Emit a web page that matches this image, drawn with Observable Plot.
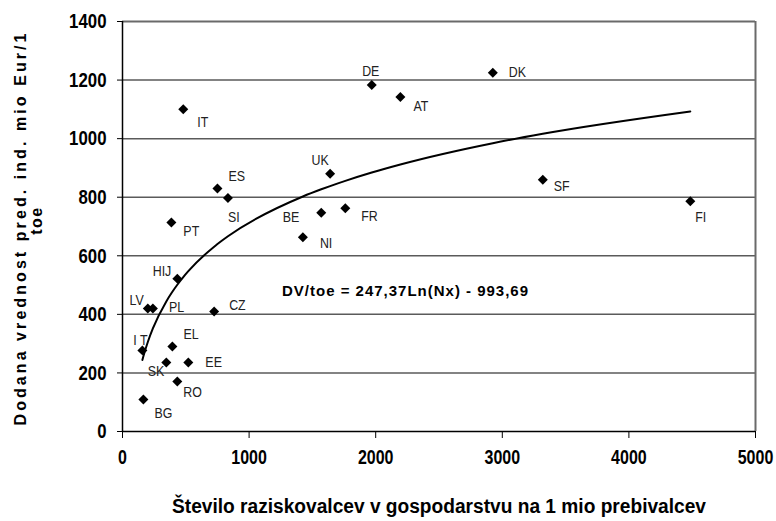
<!DOCTYPE html>
<html><head><meta charset="utf-8">
<script src="https://cdn.jsdelivr.net/npm/d3@7"></script>
<script src="https://cdn.jsdelivr.net/npm/@observablehq/plot@0.6"></script>
<style>body{margin:0;background:#fff}</style>
</head><body><div id="chart"></div>
<script>
// ---- data ----
const labels = ["I T","BG","LV","PL","SK","PT","EL","RO","HIJ","IT","EE","CZ","ES","SI","NI","BE","UK","FR","DE","AT","DK","SF","FI"];
const researchers = [157,165,200,240,346,386,394,433,433,480,520,724,750,833,1425,1570,1640,1760,1969,2195,2925,3320,4485];
const valueAdded  = [277,109,420,420,236,714,290,171,522,1100,236,410,830,797,663,747,880,762,1183,1142,1225,860,786];
const xTicks = [0,1000,2000,3000,4000,5000];
const yTicks = [0,200,400,600,800,1000,1200,1400];
const gridValues = [200,400,600,800,1000,1200];
const equationText = "DV/toe = 247,37Ln(Nx) - 993,69";
const equationPos = {x: 1260, y: 480};
const xTitle = "Število raziskovalcev v gospodarstvu na 1 mio prebivalcev";
const yTitleLines = ["Dodana vrednost pred. ind. mio Eur/1", "toe"];

// label placement (anchor, dx, dy) in pixels, separate from the values
const labelPlacement = [
  ["middle",-2,-10],["start",11,13],["end",-4,-8],["start",16,-1],["end",-2,9],
  ["start",12,9],["start",11,-13],["start",6,11],["end",-6,-8],["start",14,13],
  ["start",17,0],["start",15,-6],["start",11,-12],["start",0,19],["start",17,6],
  ["end",-22,4],["middle",-10,-14],["start",16,8],["middle",-1,-14],["start",13,9],
  ["start",16,-1],["start",11,6],["start",5,16]
];

const points = labels.map((c,i) => ({label: c, x: researchers[i], y: valueAdded[i], place: labelPlacement[i]}));

// logarithmic least-squares fit of the points (trend line)
const L = researchers.map(Math.log);
const mL = d3.mean(L), mY = d3.mean(valueAdded);
const slope = d3.sum(L, (l,i) => (l-mL)*(valueAdded[i]-mY)) / d3.sum(L, l => (l-mL)**2);
const intercept = mY - slope*mL;
const trend = researchers.slice().sort((a,b)=>a-b).map(x => ({x, y: intercept + slope*Math.log(x)}));

const sans = "'Liberation Sans',Arial,sans-serif";

const labelMarks = points.map(p => Plot.text([p], {
  x: "x", y: "y", text: "label",
  textAnchor: p.place[0], dx: p.place[1], dy: p.place[2],
  lineAnchor: "middle", fontFamily: sans, fontSize: 15.5, fill: "#222"
}));

const chart = Plot.plot({
  width: 776, height: 521,
  marginLeft: 122, marginRight: 21, marginTop: 21, marginBottom: 90,
  style: {fontFamily: sans, background: "#fff", overflow: "visible"},
  x: {domain: [0,5000]},
  y: {domain: [0,1400]},
  marks: [
    Plot.ruleY(gridValues, {stroke: "#5a5a5a", strokeWidth: 1.5}),
    Plot.ruleY([1400], {stroke: "#6a6a6a", strokeWidth: 2}),
    Plot.ruleX([5000], {stroke: "#6a6a6a", strokeWidth: 2}),
    Plot.ruleY([0], {stroke: "#000", strokeWidth: 1.5}),
    Plot.ruleX([0], {stroke: "#000", strokeWidth: 1.5}),
    Plot.axisX({ticks: xTicks, tickSize: 7, tickPadding: 11, label: null, tickFormat: d => String(d),
      fontSize: 20, fontWeight: "bold", fontFamily: sans, stroke: "#000", fill: "#000"}),
    Plot.axisY({ticks: yTicks, tickSize: 5, tickPadding: 11, label: null, tickFormat: d => String(d),
      fontSize: 21, fontWeight: "bold", fontFamily: sans, stroke: "#000", fill: "#000"}),
    Plot.line(trend, {x: "x", y: "y", stroke: "#000", strokeWidth: 2, curve: "monotone-x"}),
    Plot.dot(points, {x: "x", y: "y", symbol: "diamond2", r: 4.5, fill: "#000", stroke: "none"}),
    ...labelMarks,
    Plot.text([equationText], {x: equationPos.x, y: equationPos.y, text: d => d, textAnchor: "start",
      lineAnchor: "middle", fontFamily: sans, fontWeight: "bold", fontSize: 15, fill: "#000"}),
    Plot.text([xTitle], {frameAnchor: "bottom", text: d => d, dy: 75, lineAnchor: "middle", textAnchor: "middle",
      fontFamily: sans, fontWeight: "bold", fontSize: 20, fill: "#000"}),
    Plot.text([yTitleLines[0]], {frameAnchor: "left", text: d => d, dx: -102, dy: 3, rotate: -90,
      lineAnchor: "middle", textAnchor: "middle", fontFamily: sans, fontWeight: "bold", fontSize: 16, fill: "#000"}),
    Plot.text([yTitleLines[1]], {frameAnchor: "left", text: d => d, dx: -86, dy: -6, rotate: -90,
      lineAnchor: "middle", textAnchor: "middle", fontFamily: sans, fontWeight: "bold", fontSize: 16, fill: "#000"})
  ]
});
document.getElementById("chart").append(chart);

// condensed look of the original typeface: compress glyphs horizontally
const svg = d3.select(chart);
const fixed = new Map([[xTitle, 534], [yTitleLines[0], 392], [equationText, 246]]);
svg.selectAll("text").each(function(){
  const t = this.textContent;
  const el = d3.select(this);
  if (fixed.has(t)) {
    el.attr("textLength", fixed.get(t))
      .attr("lengthAdjust", t === xTitle ? "spacingAndGlyphs" : "spacing");
  } else if (t !== yTitleLines[1]) {
    const len = this.getComputedTextLength();
    if (len > 0) el.attr("textLength", (len*0.8).toFixed(1)).attr("lengthAdjust", "spacingAndGlyphs");
  }
});
svg.selectAll("text").filter(function(){ return this.textContent === yTitleLines[1]; })
  .attr("letter-spacing", "1.5px");
</script>
</body></html>
